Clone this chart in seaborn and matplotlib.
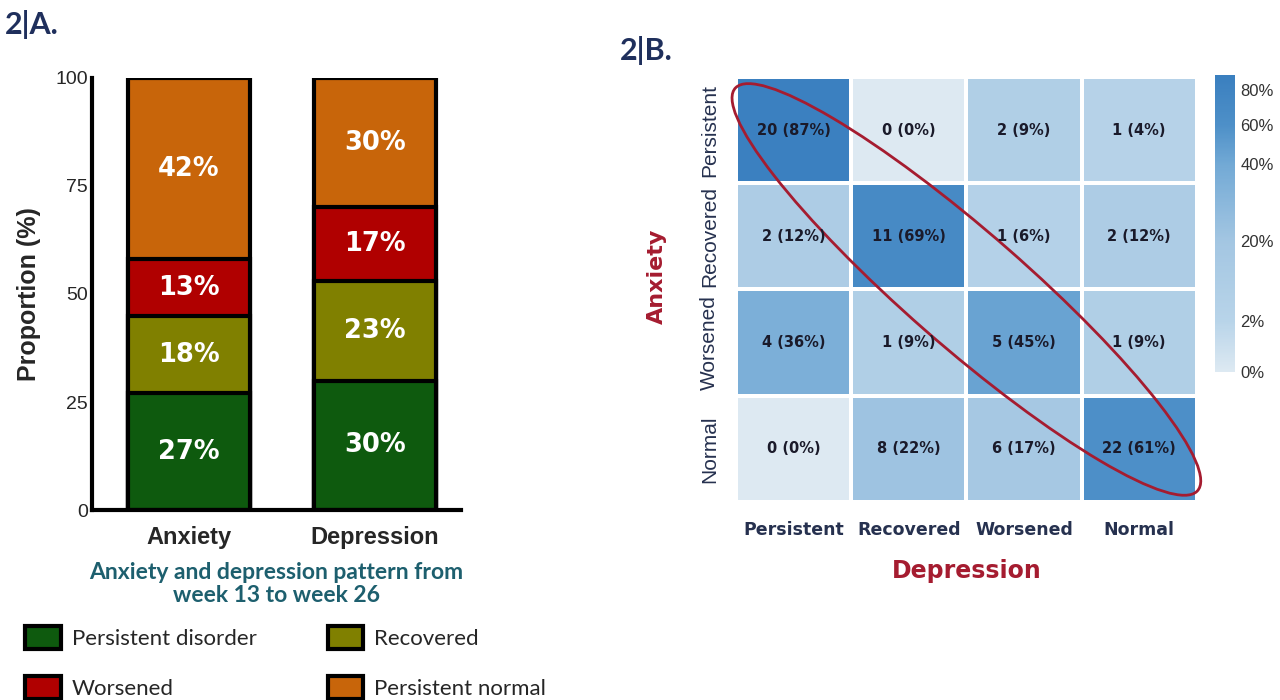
import numpy as np
import pandas as pd
import matplotlib
matplotlib.use('Agg')
import matplotlib.pyplot as plt
import seaborn as sns
from matplotlib.colors import FuncNorm, LinearSegmentedColormap
from matplotlib.patches import Patch, Ellipse

# ---- panel A data: pattern proportions (%) ----
groups = ['Anxiety', 'Depression']
categories = ['Persistent disorder', 'Recovered', 'Worsened', 'Persistent normal']
anxiety_pct = [27, 18, 13, 42]
depression_pct = [30, 23, 17, 30]
bar_colors = ['#0e5a0e', '#808000', '#b00000', '#c8650a']

# ---- panel B data: anxiety (rows) x depression (cols) ----
states = ['Persistent', 'Recovered', 'Worsened', 'Normal']
counts = [[20, 0, 2, 1],
          [2, 11, 1, 2],
          [4, 1, 5, 1],
          [0, 8, 6, 22]]
row_pct = [[87, 0, 9, 4],
           [12, 69, 6, 12],
           [36, 9, 45, 9],
           [0, 22, 17, 61]]
cbar_ticks = [0, 2, 20, 40, 60, 80]

NAVY = '#1f2f5c'
RED = '#a51c30'

sns.set_style('white')
fig = plt.figure(figsize=(12.8, 7), dpi=100)

# =====================================================================
# Panel A: stacked bars
# =====================================================================
ax = fig.add_axes([0.072, 0.271, 0.288, 0.618])
df = pd.DataFrame({'group': np.repeat(groups, len(categories)),
                   'category': categories * len(groups),
                   'value': anxiety_pct + depression_pct})
df['cum'] = df.groupby('group')['value'].cumsum()

# draw cumulative bars from the top segment down so each lower one sits on top
for cat, col in reversed(list(zip(categories, bar_colors))):
    sub = df[df['category'] == cat]
    sns.barplot(data=sub, x='group', y='cum', order=groups, color=col,
                edgecolor='black', linewidth=3, width=0.656,
                errorbar=None, saturation=1, ax=ax)

for _, r in df.iterrows():
    ax.text(groups.index(r['group']), r['cum'] - r['value'] / 2, f"{r['value']}%",
            ha='center', va='center', color='white', fontsize=18.5,
            fontweight='bold', family='DejaVu Sans')

ax.set_xlim(-0.52, 1.46)
ax.set_ylim(0, 100)
ax.set_yticks([0, 25, 50, 75, 100])
for s in ['top', 'right']:
    ax.spines[s].set_visible(False)
for s in ['left', 'bottom']:
    ax.spines[s].set_linewidth(3)
    ax.spines[s].set_color('black')
ax.tick_params(axis='y', length=6, width=2.5, pad=-3, labelsize=14)
ax.tick_params(axis='x', length=8, width=3, pad=3, labelsize=17)
for lab in ax.get_yticklabels():
    lab.set_family('Liberation Sans')
for lab in ax.get_xticklabels():
    lab.set_fontweight('bold')
    lab.set_family('Liberation Sans')
ax.set_ylabel('Proportion (%)', fontsize=18, fontweight='bold',
              family='Liberation Sans', labelpad=10)
ax.set_xlabel('Anxiety and depression pattern from\nweek 13 to week 26',
              fontsize=16.5, fontweight='bold', color='#1d5f6e', family='Lato',
              labelpad=10, linespacing=1.1)

handles = [Patch(facecolor=c, edgecolor='black', linewidth=3) for c in bar_colors]
order = [0, 2, 1, 3]
fig.legend([handles[i] for i in order], [categories[i] for i in order],
           loc='upper left', bbox_to_anchor=(0.004, 0.134), ncol=2,
           frameon=False, prop={'family': 'Lato', 'size': 16},
           handlelength=1.6, handleheight=1.2, handletextpad=0.5,
           columnspacing=3.2, labelspacing=1.2)

fig.text(0.004, 0.965, '2|A.', fontsize=22, fontweight='bold', color=NAVY,
         family='Lato', va='center')
fig.text(0.484, 0.928, '2|B.', fontsize=22, fontweight='bold', color=NAVY,
         family='Lato', va='center')

# =====================================================================
# Panel B: heatmap
# =====================================================================
hx = fig.add_axes([0.575, 0.283, 0.360, 0.607])
cax = fig.add_axes([0.949, 0.469, 0.0156, 0.424])

pct_df = pd.DataFrame(row_pct, index=states, columns=states)
annot = np.array([[f'{c} ({p}%)' for c, p in zip(cr, pr)]
                  for cr, pr in zip(counts, row_pct)])

# uneven colour scale, as on the original colour bar
xp = [0, 2, 20, 40, 60, 80, 90]
fp = [0.0, 0.17, 0.44, 0.70, 0.83, 0.95, 1.0]
norm = FuncNorm((lambda v: np.interp(v, xp, fp), lambda v: np.interp(v, fp, xp)),
                vmin=0, vmax=90)
cmap = LinearSegmentedColormap.from_list(
    'blues_custom',
    [(0.0, '#dde9f2'), (0.17, '#b8d4e9'), (0.44, '#a3c6e2'),
     (0.70, '#72a9d5'), (0.83, '#4e90c8'), (1.0, '#3a7fbf')])

sns.heatmap(pct_df, annot=annot, fmt='', cmap=cmap, norm=norm, ax=hx, cbar_ax=cax,
            linewidths=1.5, linecolor='white',
            annot_kws={'color': '#1a1a2a', 'fontsize': 10.5, 'fontweight': 'bold',
                       'family': 'DejaVu Sans'})

cbar = hx.collections[0].colorbar
cbar.set_ticks(cbar_ticks)
cbar.set_ticklabels([f'{t}%' for t in cbar_ticks])
cbar.outline.set_visible(False)
cax.tick_params(length=0, labelsize=12, labelcolor='#333333', pad=4)
for lab in cax.get_yticklabels():
    lab.set_family('Liberation Sans')

hx.tick_params(length=0)
hx.set_xticklabels(states, rotation=0, fontsize=12.5, fontweight='bold',
                   family='DejaVu Sans', color='#26314f')
hx.set_yticklabels(states, rotation=90, va='center', fontsize=15,
                   family='Liberation Sans', color='#26314f')
hx.tick_params(axis='x', pad=14)
hx.tick_params(axis='y', pad=12)
hx.set_xlabel('Depression', fontsize=17, fontweight='bold', color=RED,
              family='DejaVu Sans', labelpad=14)
hx.set_ylabel('Anxiety', fontsize=16, fontweight='bold', color=RED,
              family='DejaVu Sans', labelpad=16)
hx.yaxis.set_label_coords(-0.15, 0.53)

hx.add_patch(Ellipse((2, 2), width=5.52, height=1.05, angle=43.5, fill=False,
                     edgecolor=RED, linewidth=2, clip_on=False))

fig.savefig('out.png', dpi=100, facecolor='white')
